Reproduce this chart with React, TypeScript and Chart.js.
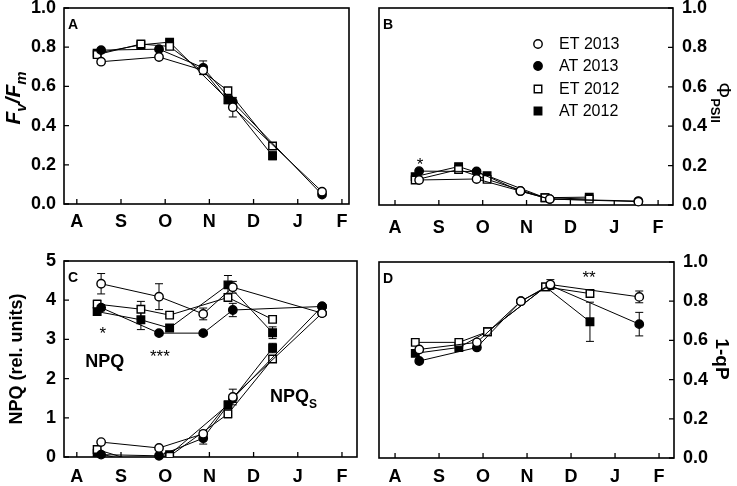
import React, { useEffect, useRef } from "react";
import { Chart, registerables } from "chart.js";

Chart.register(...registerables);

const FONT = "'Liberation Sans', Arial, Helvetica, sans-serif";

// ---------- data ----------
const MONTH_TICKS = [0, 1, 2, 3, 4, 5, 6];
const MONTH_LABELS = ["A", "S", "O", "N", "D", "J", "F"];
const Y_TICKS_UNIT = [0, 0.2, 0.4, 0.6, 0.8, 1.0];
const Y_TICKS_NPQ = [0, 1, 2, 3, 4, 5];

const SERIES_LABELS = ["ET 2013", "AT 2013", "ET 2012", "AT 2012"];

// sampling dates, in months after 1 Aug
const DATES_2013 = [0.55, 1.86, 2.86, 3.53, 5.55];
const DATES_2012 = [0.46, 1.45, 2.1, 3.42, 4.43];

// A: Fv/Fm
const FVFM_ET2013 = [0.726, 0.75, 0.682, 0.494, 0.063];
const FVFM_AT2013 = [0.785, 0.79, 0.695, 0.52, 0.048];
const FVFM_ET2012 = [0.762, 0.816, 0.804, 0.578, 0.296];
const FVFM_AT2012 = [0.77, 0.812, 0.826, 0.532, 0.246];
const FVFM_ET2013_ERR = [0.01, 0.01, 0.02, 0.05, 0.01];
const FVFM_AT2013_ERR = [0.01, 0.01, 0.035, 0.02, 0.01];
const FVFM_ET2012_ERR = [0.01, 0.01, 0.01, 0.015, 0.01];
const FVFM_AT2012_ERR = [0.01, 0.01, 0.01, 0.02, 0.02];

// B: PhiPSII
const PSII_ET2013 = [0.127, 0.132, 0.071, 0.03, 0.017];
const PSII_AT2013 = [0.172, 0.17, 0.07, 0.03, 0.02];
const PSII_ET2012 = [0.127, 0.18, 0.13, 0.037, 0.03];
const PSII_AT2012 = [0.144, 0.195, 0.149, 0.037, 0.04];

// C: NPQ and NPQs
const NPQ_ET2013 = [4.42, 4.09, 3.65, 4.33, 3.67];
const NPQ_AT2013 = [3.81, 3.16, 3.16, 3.75, 3.84];
const NPQ_ET2012 = [3.9, 3.77, 3.62, 4.07, 3.51];
const NPQ_AT2012 = [3.71, 3.5, 3.29, 4.39, 3.17];
const NPQ_ET2013_ERR = [0.26, 0.33, 0.15, 0.15, 0.05];
const NPQ_AT2013_ERR = [0.08, 0.05, 0.05, 0.17, 0.05];
const NPQ_ET2012_ERR = [0.1, 0.2, 0.05, 0.1, 0.08];
const NPQ_AT2012_ERR = [0.05, 0.25, 0.08, 0.24, 0.15];

const NPQS_ET2013 = [0.38, 0.23, 0.59, 1.53, 3.67];
const NPQS_AT2013 = [0.06, 0.03, 0.48, 1.49, 3.84];
const NPQS_ET2012 = [0.19, -0.15, 0.02, 1.1, 2.5];
const NPQS_AT2012 = [0.1, -0.17, 0.06, 1.33, 2.78];
const NPQS_ET2013_ERR = [0.03, 0.03, 0.08, 0.2, 0.05];
const NPQS_AT2013_ERR = [0.02, 0.02, 0.15, 0.1, 0.05];
const NPQS_ET2012_ERR = [0.05, 0, 0.02, 0.1, 0.08];
const NPQS_AT2012_ERR = [0.05, 0, 0.02, 0.1, 0.12];

// D: 1-qP
const QP_ET2013 = [0.554, 0.59, 0.8, 0.885, 0.822];
const QP_AT2013 = [0.495, 0.564, 0.8, 0.88, 0.683];
const QP_ET2012 = [0.59, 0.59, 0.644, 0.873, 0.839];
const QP_AT2012 = [0.534, 0.564, 0.644, 0.873, 0.695];
const QP_ET2013_ERR = [0.01, 0.01, 0.01, 0.025, 0.03];
const QP_AT2013_ERR = [0.01, 0.01, 0.01, 0.01, 0.06];
const QP_ET2012_ERR = [0.01, 0.01, 0.01, 0.01, 0.01];
const QP_AT2012_ERR = [0.01, 0.01, 0.01, 0.01, 0.1];

// ---------- styling ----------
const STYLES = [
  { shape: "circle", filled: false },
  { shape: "circle", filled: true },
  { shape: "rect", filled: false },
  { shape: "rect", filled: true },
];

function makeDataset(idx: number, xs: number[], ys: number[], errs?: number[], clipBottom?: boolean) {
  const st = STYLES[idx];
  return {
    label: SERIES_LABELS[idx],
    data: xs.map((x, i) => ({ x, y: ys[i] })),
    err: errs,
    borderColor: "#000",
    borderWidth: 1,
    pointStyle: st.shape,
    pointRadius: st.shape === "rect" ? 5.3 : 4.2,
    pointHoverRadius: st.shape === "rect" ? 5.3 : 4.2,
    pointBorderWidth: 1.4,
    pointBorderColor: "#000",
    pointBackgroundColor: st.filled ? "#000" : "#fff",
    fill: false,
    tension: 0,
    clip: clipBottom ? { left: false, right: false, top: false, bottom: 0 } : false,
  };
}

type Seg = { t: string; sub?: boolean; italic?: boolean; bold?: boolean };

function drawRich(
  ctx: CanvasRenderingContext2D,
  segs: Seg[],
  cx: number,
  cy: number,
  rot: number,
  size: number,
  subSize: number,
  align: "center" | "left"
) {
  ctx.save();
  ctx.translate(cx, cy);
  ctx.rotate(rot);
  const fontFor = (s: Seg) =>
    `${s.italic ? "italic " : ""}${s.bold === false ? "" : "bold "}${s.sub ? subSize : size}px ${FONT}`;
  const widths = segs.map((s) => {
    ctx.font = fontFor(s);
    return ctx.measureText(s.t).width;
  });
  const total = widths.reduce((a, b) => a + b, 0);
  let x = align === "center" ? -total / 2 : 0;
  const base = size * 0.36;
  ctx.textAlign = "left";
  ctx.textBaseline = "alphabetic";
  ctx.fillStyle = "#000";
  segs.forEach((s, i) => {
    ctx.font = fontFor(s);
    ctx.fillText(s.t, x, base + (s.sub ? size * 0.3 : 0));
    x += widths[i];
  });
  ctx.restore();
}

type Annot = { text?: string; rich?: Seg[]; x: number; y: number; size: number; bold?: boolean; dy?: number; align?: "center" | "left" };

type PanelSpec = {
  id: string;
  left: number;
  top: number;
  width: number;
  height: number;
  padding: { left: number; right: number; top: number; bottom: number };
  yAxisWidth: number;
  xAxisHeight: number;
  yPosition: "left" | "right";
  xMin: number;
  xMax: number;
  yMin: number;
  yMax: number;
  yTicks: number[];
  decimals: number;
  xPad: number;
  yPad: number;
  datasets: any[];
  title: { segs: Seg[]; x: number; dy: number; rot: number; size: number; subSize: number };
  annotations: Annot[];
  legend: boolean;
};

const PANELS: PanelSpec[] = [
  {
    id: "A",
    left: 0, top: 0, width: 370, height: 240,
    padding: { left: 0, right: 21, top: 8, bottom: 0 },
    yAxisWidth: 64, xAxisHeight: 36, yPosition: "left",
    xMin: -0.29, xMax: 6.16, yMin: 0, yMax: 1, yTicks: Y_TICKS_UNIT, decimals: 1,
    xPad: 7, yPad: 8,
    datasets: [
      makeDataset(0, DATES_2013, FVFM_ET2013, FVFM_ET2013_ERR),
      makeDataset(1, DATES_2013, FVFM_AT2013, FVFM_AT2013_ERR),
      makeDataset(2, DATES_2012, FVFM_ET2012, FVFM_ET2012_ERR),
      makeDataset(3, DATES_2012, FVFM_AT2012, FVFM_AT2012_ERR),
    ],
    title: {
      segs: [
        { t: "F", italic: true },
        { t: "v", italic: true, sub: true },
        { t: "/F", italic: true },
        { t: "m", italic: true, sub: true },
      ],
      x: 12, dy: -8, rot: -Math.PI / 2, size: 21, subSize: 15,
    },
    annotations: [],
    legend: false,
  },
  {
    id: "B",
    left: 370, top: 0, width: 367, height: 240,
    padding: { left: 9, right: 0, top: 8, bottom: 0 },
    yAxisWidth: 64, xAxisHeight: 35, yPosition: "right",
    xMin: -0.365, xMax: 6.34, yMin: 0, yMax: 1, yTicks: Y_TICKS_UNIT, decimals: 1,
    xPad: 12, yPad: 9,
    datasets: [
      makeDataset(0, DATES_2013, PSII_ET2013),
      makeDataset(1, DATES_2013, PSII_AT2013),
      makeDataset(2, DATES_2012, PSII_ET2012),
      makeDataset(3, DATES_2012, PSII_AT2012),
    ],
    title: {
      segs: [{ t: "Φ", bold: false }, { t: "PSII", sub: true }],
      x: 354, dy: -4, rot: Math.PI / 2, size: 20, subSize: 13,
    },
    annotations: [{ text: "*", x: 0.57, y: 0.228, size: 17, dy: 5 }],
    legend: true,
  },
  {
    id: "C",
    left: 0, top: 240, width: 370, height: 246,
    padding: { left: 0, right: 13, top: 21, bottom: 0 },
    yAxisWidth: 64, xAxisHeight: 29, yPosition: "left",
    xMin: -0.29, xMax: 6.34, yMin: 0, yMax: 5, yTicks: Y_TICKS_NPQ, decimals: 0,
    xPad: 9, yPad: 8,
    datasets: [
      makeDataset(0, DATES_2013, NPQ_ET2013, NPQ_ET2013_ERR),
      makeDataset(1, DATES_2013, NPQ_AT2013, NPQ_AT2013_ERR),
      makeDataset(2, DATES_2012, NPQ_ET2012, NPQ_ET2012_ERR),
      makeDataset(3, DATES_2012, NPQ_AT2012, NPQ_AT2012_ERR),
      makeDataset(0, DATES_2013, NPQS_ET2013, NPQS_ET2013_ERR),
      makeDataset(1, DATES_2013, NPQS_AT2013, NPQS_AT2013_ERR),
      makeDataset(2, DATES_2012, NPQS_ET2012, NPQS_ET2012_ERR, true),
      makeDataset(3, DATES_2012, NPQS_AT2012, NPQS_AT2012_ERR, true),
    ],
    title: {
      segs: [{ t: "NPQ (rel. units)" }],
      x: 16, dy: 0, rot: -Math.PI / 2, size: 18, subSize: 12,
    },
    annotations: [
      { text: "*", x: 0.59, y: 3.27, size: 17, dy: 5 },
      { text: "***", x: 1.88, y: 2.68, size: 17, dy: 5 },
      { text: "NPQ", x: 0.63, y: 2.42, size: 18, bold: true },
      { rich: [{ t: "NPQ" }, { t: "S", sub: true }], x: 4.37, y: 1.56, size: 18, align: "left" },
    ],
    legend: false,
  },
  {
    id: "D",
    left: 370, top: 240, width: 367, height: 246,
    padding: { left: 9, right: 0, top: 22, bottom: 0 },
    yAxisWidth: 63, xAxisHeight: 28, yPosition: "right",
    xMin: -0.365, xMax: 6.34, yMin: 0, yMax: 1, yTicks: Y_TICKS_UNIT, decimals: 1,
    xPad: 8, yPad: 9,
    datasets: [
      makeDataset(0, DATES_2013, QP_ET2013, QP_ET2013_ERR),
      makeDataset(1, DATES_2013, QP_AT2013, QP_AT2013_ERR),
      makeDataset(2, DATES_2012, QP_ET2012, QP_ET2012_ERR),
      makeDataset(3, DATES_2012, QP_AT2012, QP_AT2012_ERR),
    ],
    title: {
      segs: [{ t: "1-qP" }],
      x: 353, dy: -1, rot: Math.PI / 2, size: 19, subSize: 13,
    },
    annotations: [{ text: "**", x: 4.41, y: 0.94, size: 17, dy: 5 }],
    legend: false,
  },
];

function makePlugin(spec: PanelSpec) {
  return {
    id: "panelDecor" + spec.id,
    beforeDatasetsDraw(chart: any) {
      const { ctx, chartArea: a, scales } = chart;
      const xs = scales.x;
      const ys = scales.y;
      ctx.save();
      ctx.strokeStyle = "#000";
      // error bars
      ctx.lineWidth = 1;
      chart.data.datasets.forEach((ds: any) => {
        const err: number[] | undefined = ds.err;
        if (!err) return;
        ds.data.forEach((p: any, i: number) => {
          const e = err[i];
          if (!e) return;
          const px = xs.getPixelForValue(p.x);
          const yTop = ys.getPixelForValue(p.y + e);
          const yBot = ys.getPixelForValue(Math.max(p.y - e, spec.yMin));
          ctx.beginPath();
          ctx.moveTo(px, yTop);
          ctx.lineTo(px, yBot);
          ctx.moveTo(px - 4, yTop);
          ctx.lineTo(px + 4, yTop);
          ctx.moveTo(px - 4, yBot);
          ctx.lineTo(px + 4, yBot);
          ctx.stroke();
        });
      });
      // frame
      ctx.lineWidth = 1.6;
      ctx.strokeRect(a.left, a.top, a.right - a.left, a.bottom - a.top);
      // inward tick marks
      ctx.lineWidth = 1.3;
      ctx.beginPath();
      xs.ticks.forEach((t: any) => {
        const px = xs.getPixelForValue(t.value);
        ctx.moveTo(px, a.bottom);
        ctx.lineTo(px, a.bottom - 5);
      });
      ys.ticks.forEach((t: any) => {
        const py = ys.getPixelForValue(t.value);
        if (spec.yPosition === "left") {
          ctx.moveTo(a.left, py);
          ctx.lineTo(a.left + 5, py);
        } else {
          ctx.moveTo(a.right, py);
          ctx.lineTo(a.right - 5, py);
        }
      });
      ctx.stroke();
      ctx.restore();
    },
    afterDraw(chart: any) {
      const { ctx, chartArea: a, scales } = chart;
      const xs = scales.x;
      const ys = scales.y;
      ctx.save();
      ctx.fillStyle = "#000";
      // panel letter
      ctx.font = `bold 14px ${FONT}`;
      ctx.textAlign = "center";
      ctx.textBaseline = "middle";
      ctx.fillText(spec.id, a.left + 9, a.top + 17);
      // annotations
      spec.annotations.forEach((an) => {
        const px = xs.getPixelForValue(an.x);
        const py = ys.getPixelForValue(an.y) + (an.dy || 0);
        if (an.rich) {
          drawRich(ctx, an.rich, px, py, 0, an.size, Math.round(an.size * 0.68), an.align || "center");
        } else {
          ctx.font = `${an.bold ? "bold " : ""}${an.size}px ${FONT}`;
          ctx.textAlign = an.align || "center";
          ctx.textBaseline = "middle";
          ctx.fillText(an.text, px, py);
        }
      });
      // legend
      if (spec.legend) {
        const mx = a.left + 159;
        const tx = a.left + 180;
        const rows = [36, 58, 81, 103];
        chart.data.datasets.slice(0, 4).forEach((ds: any, i: number) => {
          const y = a.top + rows[i];
          const st = STYLES[i];
          ctx.lineWidth = 1.4;
          ctx.strokeStyle = "#000";
          ctx.fillStyle = st.filled ? "#000" : "#fff";
          ctx.beginPath();
          if (st.shape === "circle") ctx.arc(mx, y, 4.2, 0, Math.PI * 2);
          else ctx.rect(mx - 3.75, y - 3.75, 7.5, 7.5);
          ctx.fill();
          ctx.stroke();
          ctx.fillStyle = "#000";
          ctx.font = `16px ${FONT}`;
          ctx.textAlign = "left";
          ctx.textBaseline = "middle";
          ctx.fillText(ds.label, tx, y + 1);
        });
      }
      // axis title
      const cy = (a.top + a.bottom) / 2 + spec.title.dy;
      drawRich(ctx, spec.title.segs, spec.title.x, cy, spec.title.rot, spec.title.size, spec.title.subSize, "center");
      ctx.restore();
    },
  };
}

function buildConfig(spec: PanelSpec): any {
  const tickFont = { family: FONT, size: 18, weight: "bold" as const };
  return {
    type: "line",
    data: { datasets: spec.datasets },
    options: {
      responsive: false,
      animation: false,
      events: [],
      layout: { padding: spec.padding },
      plugins: { legend: { display: false }, tooltip: { enabled: false }, title: { display: false } },
      scales: {
        x: {
          type: "linear",
          min: spec.xMin,
          max: spec.xMax,
          grid: { display: false, drawTicks: false },
          border: { display: false },
          ticks: {
            font: tickFont,
            color: "#000",
            padding: spec.xPad,
            autoSkip: false,
            maxRotation: 0,
            callback: (v: number) => MONTH_LABELS[Math.round(v)] ?? "",
          },
          afterBuildTicks: (s: any) => {
            s.ticks = MONTH_TICKS.map((v) => ({ value: v }));
          },
          afterFit: (s: any) => {
            s.height = spec.xAxisHeight;
            s.paddingLeft = 0;
            s.paddingRight = 0;
          },
        },
        y: {
          type: "linear",
          position: spec.yPosition,
          min: spec.yMin,
          max: spec.yMax,
          grid: { display: false, drawTicks: false },
          border: { display: false },
          ticks: {
            font: tickFont,
            color: "#000",
            padding: spec.yPad,
            callback: (v: number) => Number(v).toFixed(spec.decimals),
          },
          afterBuildTicks: (s: any) => {
            s.ticks = spec.yTicks.map((v) => ({ value: v }));
          },
          afterFit: (s: any) => {
            s.width = spec.yAxisWidth;
            s.paddingTop = 0;
            s.paddingBottom = 0;
          },
        },
      },
    },
    plugins: [makePlugin(spec)],
  };
}

function Panel({ spec }: { spec: PanelSpec }) {
  const ref = useRef<HTMLCanvasElement>(null);
  useEffect(() => {
    if (!ref.current) return;
    const chart = new Chart(ref.current, buildConfig(spec));
    return () => chart.destroy();
  }, [spec]);
  return (
    <canvas
      ref={ref}
      width={spec.width}
      height={spec.height}
      style={{ position: "absolute", left: spec.left, top: spec.top, width: spec.width, height: spec.height }}
    />
  );
}

export default function App() {
  return (
    <div style={{ position: "absolute", left: 0, top: 0, width: 737, height: 486, background: "#fff", overflow: "hidden" }}>
      {PANELS.map((p) => (
        <Panel key={p.id} spec={p} />
      ))}
    </div>
  );
}
